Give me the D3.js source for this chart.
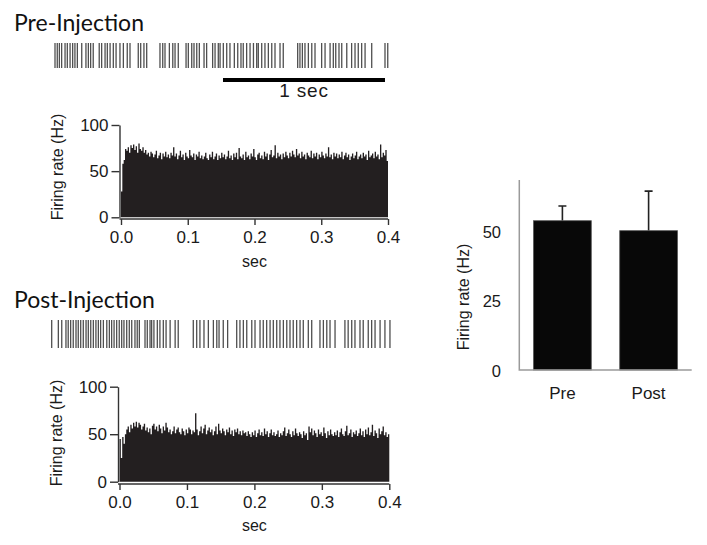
<!DOCTYPE html>
<html>
<head>
<meta charset="utf-8">
<script src="https://cdn.jsdelivr.net/npm/d3@7"></script>
<style>
  body { margin: 0; background: #fff; }
  svg { display: block; }
  text { font-family: "Liberation Sans", Arial, Helvetica, sans-serif; fill: #1a1a1a; }
  .title { font-family: Lato, "Open Sans", sans-serif; font-size: 23px; fill: #111; }
</style>
</head>
<body>
<script>
// スパイク時刻 (sec)
var preSpikes = [0.000,0.014,0.027,0.041,0.062,0.076,0.093,0.109,0.123,0.138,0.165,0.191,0.206,0.220,0.236,
  0.273,0.288,0.309,0.323,0.340,0.360,0.377,0.401,0.422,0.446,0.463,0.514,0.529,0.549,0.566,
  0.648,0.665,0.679,0.706,0.727,0.741,0.761,0.809,0.823,0.844,0.858,0.875,0.891,0.920,0.936,
  0.973,0.988,1.008,1.019,1.039,1.060,1.080,1.107,1.128,1.148,1.162,1.183,1.204,1.225,1.245,
  1.255,1.276,1.296,1.317,1.338,1.358,1.389,1.409,1.498,1.512,1.527,1.543,1.564,1.585,1.605,
  1.646,1.667,1.698,1.718,1.733,1.753,1.770,1.801,1.831,1.852,1.872,1.893,1.914,1.955,2.037,2.054];
var postSpikes = [0.000,0.041,0.062,0.088,0.102,0.117,0.133,0.150,0.164,0.179,0.195,0.212,0.226,0.241,0.257,
  0.273,0.288,0.302,0.319,0.340,0.356,0.370,0.385,0.401,0.417,0.432,0.446,0.463,0.479,0.494,
  0.514,0.528,0.541,0.576,0.590,0.607,0.617,0.631,0.652,0.668,0.689,0.706,0.731,0.762,0.781,
  0.874,0.895,0.915,0.940,0.967,0.998,1.019,1.033,1.059,1.086,1.142,1.162,1.183,1.204,1.235,
  1.255,1.286,1.306,1.327,1.348,1.368,1.389,1.409,1.430,1.451,1.471,1.491,1.512,1.533,1.553,
  1.584,1.605,1.656,1.677,1.698,1.718,1.749,1.810,1.830,1.852,1.872,1.903,1.923,1.954,1.975,
  1.996,2.027,2.057,2.088];

// ヒストグラム (2 ms bin, Hz)
var binWidth = 0.002;
var preRate = [
  28,58,62,74,72,76,70,78,75,79,73,77,70,80,74,72,76,70,73,68,
  70,66,71,69,65,68,72,64,67,70,63,69,66,71,65,68,64,70,67,76,
  66,69,63,67,72,65,68,62,70,66,64,73,67,65,69,62,68,66,71,64,
  67,63,66,70,64,62,68,65,71,63,66,69,62,67,64,70,65,68,63,66,
  72,64,67,62,69,65,70,63,75,66,64,68,62,71,65,67,63,69,66,74,
  65,62,68,70,64,67,63,71,66,69,62,68,73,65,67,78,64,70,66,68,
  63,69,65,71,67,64,70,66,72,68,65,74,67,69,64,71,66,68,63,70,
  67,65,72,64,69,66,70,63,68,65,71,67,64,69,66,76,65,68,63,70,
  66,69,64,68,65,71,63,67,70,65,68,62,66,69,64,67,71,63,66,68,
  64,70,66,68,62,72,65,67,69,64,71,66,68,63,79,65,70,67,73,61];
var postRate = [
  45,25,47,40,50,55,58,52,60,56,62,58,63,57,62,60,55,58,61,54,
  57,52,56,50,59,61,55,58,53,60,56,51,58,54,62,57,52,55,50,53,
  58,51,55,57,52,50,56,53,49,55,51,57,55,50,54,52,72,55,49,53,
  58,51,56,60,50,54,57,52,55,49,53,58,50,61,54,51,56,53,49,55,
  52,57,50,54,48,55,52,56,50,53,49,54,51,52,48,53,50,47,52,49,
  54,47,51,55,49,52,48,56,50,53,47,51,55,49,52,48,50,54,47,51,
  49,53,57,48,51,55,50,47,53,49,56,51,48,52,50,46,53,49,51,44,
  58,52,56,49,54,51,47,55,50,52,48,57,51,46,53,49,55,50,48,52,
  49,54,47,52,56,50,48,53,59,49,51,55,47,52,50,54,48,51,56,49,
  53,47,55,50,57,49,52,60,48,54,51,46,56,50,53,58,49,52,47,50];

var histTicksX = [0, 0.1, 0.2, 0.3, 0.4];
var histTicksY = [0, 50, 100];

// 平均発火率
var groups = ["Pre", "Post"];
var meanRate = [53.9, 50.3];
var semRate = [5.3, 14.3];
var barTicksY = [0, 25, 50];

var svg = d3.select("body").append("svg")
    .attr("width", 707)
    .attr("height", 545);

// ラスタ
function raster(title, titleY, spikes, x0, y0, y1) {
    svg.append("text").attr("class", "title")
        .attr("x", 14).attr("y", titleY).text(title);
    var x = d3.scaleLinear().domain([0, 1]).range([x0, x0 + 162]);
    svg.append("g").selectAll("line")
        .data(spikes).join("line")
        .attr("x1", d => x(d)).attr("x2", d => x(d))
        .attr("y1", y0).attr("y2", y1)
        .attr("stroke", "#1e1e1e")
        .attr("stroke-opacity", 0.78)
        .attr("stroke-width", 1.3);
    return x;
}

// ヒストグラム
function hist(rate, left, right, top, bottom, axisY, axisX, labelX, labelY, secY) {
    var x = d3.scaleLinear().domain([0, 0.4]).range([left, right]);
    var y = d3.scaleLinear().domain([0, 100]).range([bottom, top]);
    var pts = rate.map((v, i) => [i * binWidth, v]);
    pts.push([0.4, rate[rate.length - 1]]);
    var area = d3.area()
        .curve(d3.curveStepAfter)
        .x(d => x(d[0]))
        .y0(y(0))
        .y1(d => y(d[1]));
    svg.append("path").datum(pts)
        .attr("d", area)
        .attr("fill", "#231f20");

    var xAxis = d3.axisBottom(x).tickValues(histTicksX)
        .tickFormat(d3.format(".1f")).tickSize(6).tickSizeOuter(0).tickPadding(6);
    var gx = svg.append("g").attr("transform", "translate(0," + axisY + ")").call(xAxis);
    var yAxis = d3.axisLeft(y).tickValues(histTicksY).tickSize(8).tickSizeOuter(0).tickPadding(3);
    var gy = svg.append("g").attr("transform", "translate(" + axisX + ",0)").call(yAxis);
    [gx, gy].forEach(g => {
        g.select(".domain").attr("stroke", "#333").attr("stroke-width", 1.4);
        g.selectAll(".tick line").attr("stroke", "#333").attr("stroke-width", 1.4);
        g.selectAll(".tick text").attr("font-size", 17).attr("fill", "#222");
    });
    gx.select(".domain").attr("d", "M" + axisX + ",0H" + right);

    svg.append("text")
        .attr("transform", "translate(" + labelX + "," + labelY + ") rotate(-90)")
        .attr("text-anchor", "middle").attr("dy", "0.35em")
        .attr("font-size", 16).text("Firing rate (Hz)");
    svg.append("text")
        .attr("x", (left + right) / 2).attr("y", secY)
        .attr("text-anchor", "middle").attr("font-size", 16).text("sec");
}

var xPre = raster("Pre-Injection", 31, preSpikes, 55, 43, 68);

// スケールバー 1 sec
svg.append("line")
    .attr("x1", xPre(2.037 - 1)).attr("x2", xPre(2.037))
    .attr("y1", 80).attr("y2", 80)
    .attr("stroke", "#000").attr("stroke-width", 4);
svg.append("text")
    .attr("x", xPre(2.037 - 0.5)).attr("y", 97)
    .attr("text-anchor", "middle").attr("font-size", 19)
    .attr("letter-spacing", 0.8).text("1 sec");

hist(preRate, 121, 388, 125, 217.3, 219, 119.5, 57, 167, 267);

raster("Post-Injection", 308, postSpikes, 51.7, 320, 348);
hist(postRate, 119.5, 389.3, 386.7, 481.7, 484, 118, 56, 433, 531);

// 棒グラフ
var bx = d3.scaleBand().domain(groups).range([519.3, 691.7])
    .paddingInner(0.33).paddingOuter(0.165);
var by = d3.scaleLinear().domain([0, 68.6]).range([370, 180]);

var bars = groups.map((g, i) => ({g: g, v: meanRate[i], e: semRate[i]}));

svg.append("g").selectAll("path.err")
    .data(bars).join("path")
    .attr("class", "err")
    .attr("d", d => {
        var cx = bx(d.g) + bx.bandwidth() / 2;
        return "M" + cx + "," + by(d.v) + "V" + by(d.v + d.e) +
            "M" + (cx - 4) + "," + by(d.v + d.e) + "H" + (cx + 4);
    })
    .attr("stroke", "#222").attr("stroke-width", 1.6).attr("fill", "none");

svg.append("g").selectAll("rect")
    .data(bars).join("rect")
    .attr("x", d => bx(d.g))
    .attr("y", d => by(d.v))
    .attr("width", bx.bandwidth())
    .attr("height", d => by(0) - by(d.v))
    .attr("fill", "#080808")
    .attr("stroke", "#555").attr("stroke-width", 0.8);

svg.append("path")
    .attr("d", "M" + 519.3 + "," + by.range()[1] + "V" + by(0) + "H" + 691.7)
    .attr("fill", "none").attr("stroke", "#9a9a9a").attr("stroke-width", 1.5);

svg.append("g").selectAll("text")
    .data(barTicksY).join("text")
    .attr("x", 501).attr("y", d => by(d))
    .attr("dy", "0.4em")
    .attr("text-anchor", "end").attr("font-size", 16.5)
    .text(d => d);

svg.append("g").selectAll("text")
    .data(groups).join("text")
    .attr("x", d => bx(d) + bx.bandwidth() / 2).attr("y", 399)
    .attr("text-anchor", "middle").attr("font-size", 17)
    .text(d => d);

svg.append("text")
    .attr("transform", "translate(463,297) rotate(-90)")
    .attr("text-anchor", "middle").attr("dy", "0.35em")
    .attr("font-size", 16).text("Firing rate (Hz)");
</script>
</body>
</html>
